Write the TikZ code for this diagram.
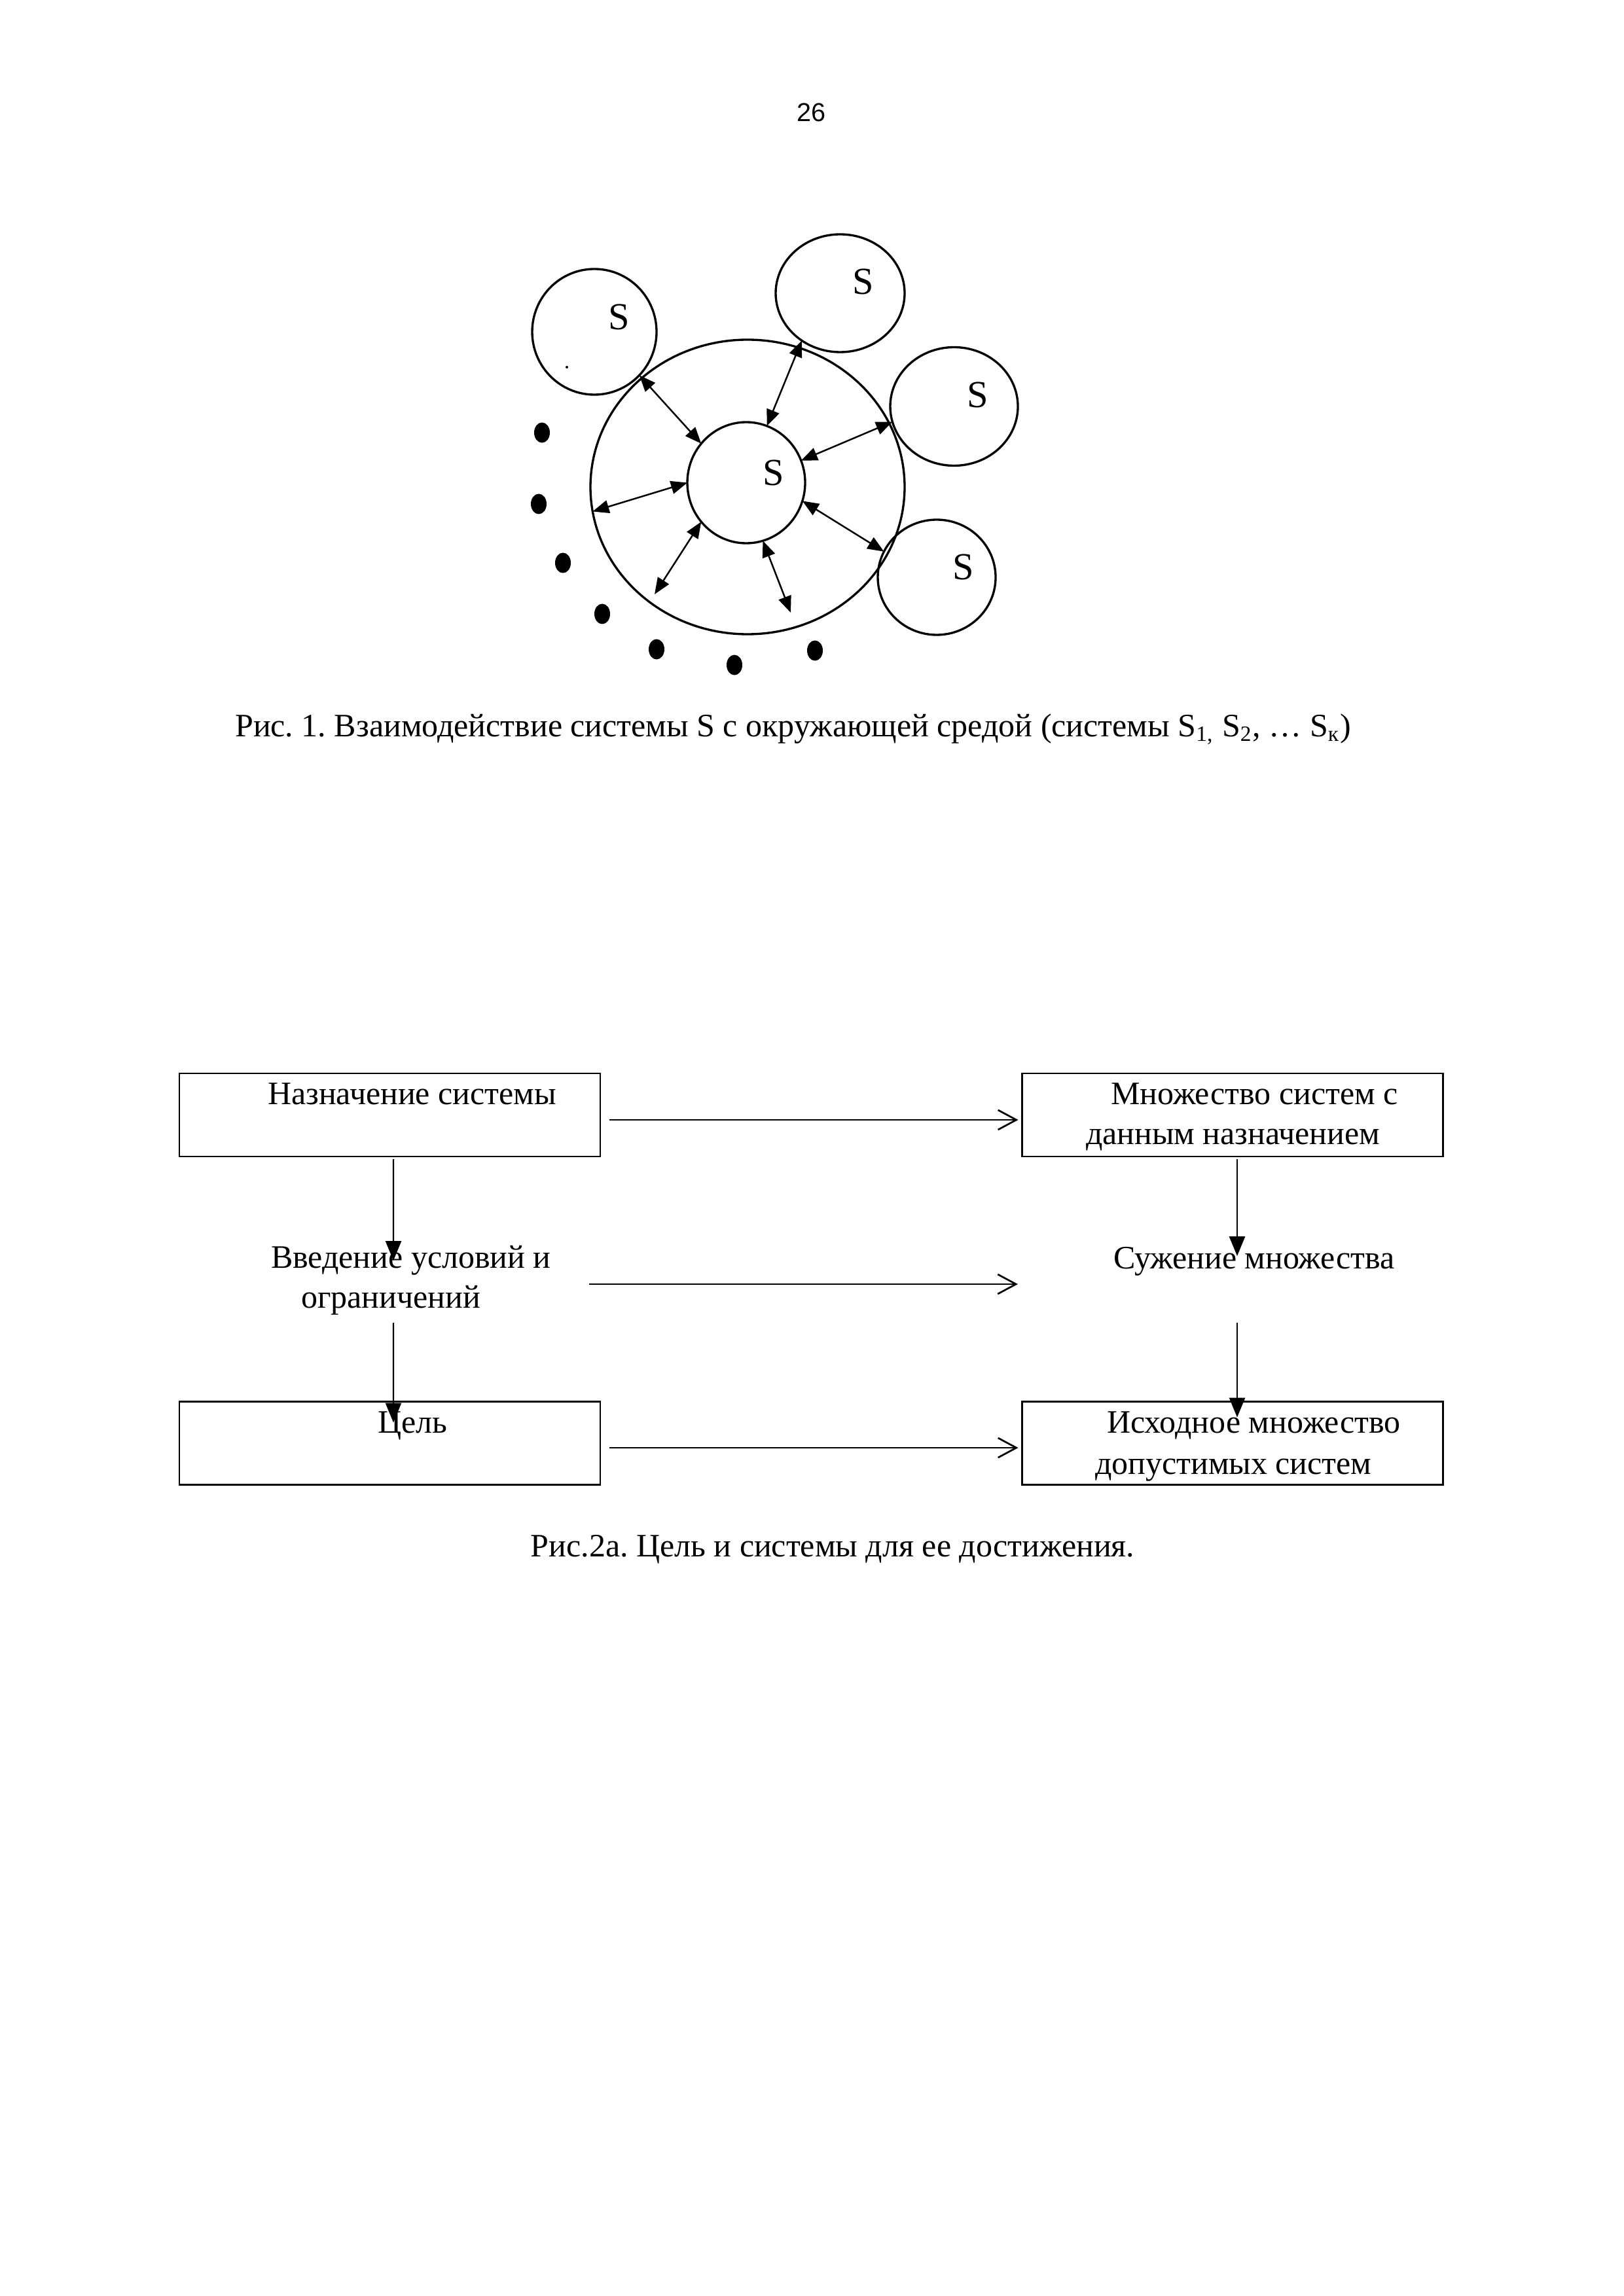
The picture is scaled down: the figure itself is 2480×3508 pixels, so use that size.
\documentclass[tikz,border=0pt]{standalone}
\usepackage{fontspec}
\setmainfont{Liberation Serif}
\newfontfamily\arialfont{Liberation Sans}
\usetikzlibrary{arrows.meta,shapes.geometric,calc}
\frenchspacing
\begin{document}
\begin{tikzpicture}[x=0.24pt,y=-0.24pt,
  txt/.style={inner sep=0pt,outer sep=0pt,font=\frenchspacing\fontsize{12}{14.7}\selectfont},
  slabel/.style={inner sep=0pt,outer sep=0pt,font=\fontsize{14}{16}\selectfont},
  circ/.style={draw,ellipse,line width=0.8pt,inner sep=0pt,outer sep=0pt},
  darr/.style={line width=0.6pt,{Triangle[length=6pt,width=4.8pt]}-{Triangle[length=6pt,width=4.8pt]}},
  box/.style={draw,rectangle,line width=0.65pt,minimum width=154.32pt,minimum height=30.48pt,inner sep=0pt,outer sep=0pt},
  harr/.style={line width=0.65pt,-{Straight Barb[length=6.7pt,width=7.2pt,line width=0.65pt]}},
  varr/.style={line width=0.55pt,-{Triangle[length=7.2pt,width=5.8pt]}},
  bigdot/.style={fill=black}
]
\fill[white] (0,0) rectangle (2480,3508);
\useasboundingbox (0,0) rectangle (2480,3508);

% page number
\node[inner sep=0pt,font=\arialfont\fontsize{9.5}{11}\selectfont,anchor=base] (pg) at (1239,186) {26};

% ---------- Figure 1 ----------
\node[circ,minimum width=115.2pt,minimum height=108pt] (outer) at (1142,744) {};
\node[circ,minimum width=43.2pt,minimum height=44.4pt] (inner) at (1140,737.5) {};
\node[circ,minimum width=45.6pt,minimum height=46.08pt] (tl) at (908,507) {};
\node[circ,minimum width=47.28pt,minimum height=43.2pt] (top) at (1283.5,448) {};
\node[circ,minimum width=46.8pt,minimum height=43.44pt] (right) at (1457.5,621) {};
\node[circ,minimum width=43.2pt,minimum height=42.24pt] (br) at (1431,882) {};

\node[slabel] (stl) at (946,484) {S};
\node[slabel] (stop) at (1319,430) {S};
\node[slabel] (sright) at (1494,603) {S};
\node[slabel] (sbr) at (1472,866) {S};
\node[slabel] (sin) at (1182,722) {S};

\fill (866,561) circle [radius=2];

\coordinate (e6) at (1000,908);
\coordinate (e7) at (1208,936);
\draw[darr] (tl.-44) -- (inner.139);
\draw[darr] (top.-129) -- (inner.70);
\draw[darr] (right.-166) -- (inner.22);
\draw[darr] (br.154) -- (inner.-18);
\draw[darr] (outer.189) -- (inner.180);
\draw[darr] (e6) -- (inner.-139);
\draw[darr] (e7) -- (inner.-74);

\foreach \p in {(828,661),(823,770),(860,860),(920,938),(1003,992),(1122,1016),(1245,994)}
  \fill[bigdot] \p ellipse [x radius=12, y radius=15.5];

\node[txt,anchor=base] (cap1) at (1211.5,1125) {Рис. 1. Взаимодействие системы S с окружающей средой (системы S\textsubscript{1,} S\textsubscript{2}, … S\textsubscript{к})};

% ---------- Figure 2 ----------
\node[box] (A) at (595.5,1703.5) {};
\node[box] (B) at (1883,1703.5) {};
\node[box] (C) at (595.5,2205) {};
\node[box] (D) at (1883,2205) {};

\node[txt,anchor=base west] (tA) at (409,1687) {Назначение системы};
\node[txt,anchor=base west] (tB1) at (1697,1687) {Множество систем с};
\node[txt,anchor=base west] (tB2) at (1659,1748) {данным назначением};
\node[txt,anchor=base west] (tV1) at (414,1937) {Введение условий и};
\node[txt,anchor=base west] (tV2) at (460,1998) {ограничений};
\node[txt,anchor=base west] (tN) at (1701,1938) {Сужение множества};
\node[txt,anchor=base west] (tC) at (577,2189) {Цель};
\node[txt,anchor=base west] (tD1) at (1691,2189) {Исходное множество};
\node[txt,anchor=base west] (tD2) at (1673,2252) {допустимых систем};

\coordinate (m1) at (900,1962);
\coordinate (m2) at (1555,1962);
\draw[harr] ($(A.east)+(14,7.5)$) -- ($(B.west)+(-6,7.5)$);
\draw[harr] (m1) -- (m2);
\draw[harr] ($(C.east)+(14,7)$) -- ($(D.west)+(-6,7)$);

\coordinate (v1) at (601,1926);
\coordinate (v2s) at (601,2021);
\coordinate (v3) at (1890,1919);
\coordinate (v4s) at (1890,2021);
\draw[varr] ($(A.south)+(5.5,4)$) -- (v1);
\draw[varr] (v2s) -- ($(C.north)+(5.5,32)$);
\draw[varr] ($(B.south)+(7,4)$) -- (v3);
\draw[varr] (v4s) -- ($(D.north)+(7,24)$);

\node[txt,anchor=base] (cap2) at (1272,2378) {Рис.2а. Цель и системы для ее достижения.};
\end{tikzpicture}
\end{document}
